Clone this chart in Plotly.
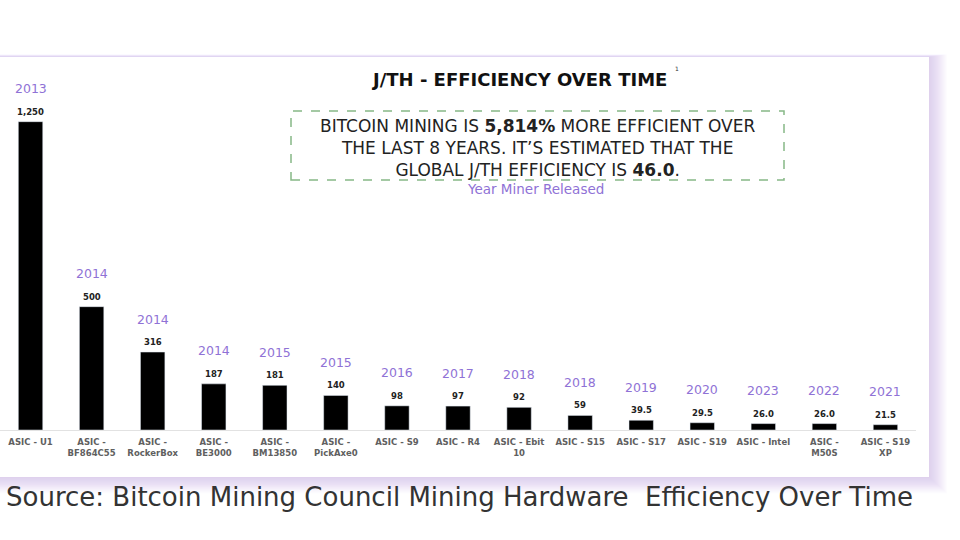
import plotly.graph_objects as go

categories = ["ASIC - U1", "ASIC -<br>BF864C55", "ASIC -<br>RockerBox", "ASIC -<br>BE3000",
              "ASIC -<br>BM13850", "ASIC -<br>PickAxe0", "ASIC - S9", "ASIC - R4",
              "ASIC - Ebit<br>10", "ASIC - S15", "ASIC - S17", "ASIC - S19",
              "ASIC - Intel", "ASIC -<br>M50S", "ASIC - S19<br>XP"]
efficiency = [1250, 500, 316, 187, 181, 140, 98, 97, 92, 59, 39.5, 29.5, 26.0, 26.0, 21.5]
value_labels = ["1,250", "500", "316", "187", "181", "140", "98", "97", "92", "59",
                "39.5", "29.5", "26.0", "26.0", "21.5"]
years = ["2013", "2014", "2014", "2014", "2015", "2015", "2016", "2017", "2018", "2018",
         "2019", "2020", "2023", "2022", "2021"]

W, H = 960, 540
ML, MR, MT, MB = 0, 44, 60, 110
PW = W - ML - MR
PH = H - MT - MB

def px(x):
    return (x - ML) / PW

def py(y):
    return (H - MB - y) / PH

PURPLE = "#8f72d6"
FONT = "'DejaVu Sans', sans-serif"

fig = go.Figure()
fig.add_trace(go.Bar(x=categories, y=efficiency, marker_color="black", width=0.4,
                     hoverinfo="x+y"))

annotations = []
for c, v, lab, yr in zip(categories, efficiency, value_labels, years):
    annotations.append(dict(x=c, y=v, xref="x", yref="y", text="<b>" + lab + "</b>",
                            showarrow=False, yshift=10, xanchor="center", yanchor="middle",
                            font=dict(size=8.5, color="#222", family=FONT)))
    annotations.append(dict(x=c, y=v, xref="x", yref="y", text=yr,
                            showarrow=False, yshift=33, xanchor="center", yanchor="middle",
                            font=dict(size=12.5, color=PURPLE, family=FONT)))

annotations += [
    dict(x=px(519), y=py(79), xref="paper", yref="paper", showarrow=False,
         xanchor="center", yanchor="middle",
         text="<b>J/TH - EFFICIENCY OVER TIME</b>",
         font=dict(size=18, color="#111", family=FONT)),
    dict(x=px(677), y=py(69), xref="paper", yref="paper", showarrow=False,
         xanchor="center", yanchor="middle",
         text="1", font=dict(size=6, color="#333", family=FONT)),
    dict(x=px(537), y=py(148), xref="paper", yref="paper", showarrow=False,
         xanchor="center", yanchor="middle",
         text="BITCOIN MINING IS <b>5,814%</b> MORE EFFICIENT OVER<br>"
              "THE LAST 8 YEARS. IT\u2019S ESTIMATED THAT THE<br>"
              "GLOBAL J/TH EFFICIENCY IS <b>46.0</b>.",
         align="center", font=dict(size=17, color="#222", family=FONT)),
    dict(x=px(535), y=py(189), xref="paper", yref="paper", showarrow=False,
         xanchor="center", yanchor="middle",
         text="Year Miner Released", font=dict(size=13.5, color=PURPLE, family=FONT)),
    dict(x=px(4), y=py(497), xref="paper", yref="paper", showarrow=False,
         xanchor="left", yanchor="middle",
         text="Source: Bitcoin Mining Council Mining Hardware&nbsp;&nbsp;Efficiency Over Time",
         font=dict(size=26, color="#333", family=FONT)),
]

shapes = []
# soft lavender shadow around the card
for k in range(18, 0, -1):
    shapes.append(dict(type="rect", xref="paper", yref="paper", layer="below",
                       x0=px(-30), x1=px(929 + k), y0=py(477 + k * 0.9), y1=py(57 - k * 0.15),
                       line=dict(width=0), fillcolor="rgba(190,172,238,0.035)"))
shapes.append(dict(type="rect", xref="paper", yref="paper", layer="below",
                   x0=px(-30), x1=px(929), y0=py(477), y1=py(57),
                   line=dict(width=0), fillcolor="white"))
shapes.append(dict(type="rect", xref="paper", yref="paper",
                   x0=px(291), x1=px(784), y0=py(180), y1=py(111),
                   line=dict(color="#86b886", width=1.5, dash="dash"), fillcolor="rgba(0,0,0,0)"))

fig.update_layout(
    width=W, height=H,
    margin=dict(l=ML, r=MR, t=MT, b=MB),
    paper_bgcolor="white", plot_bgcolor="rgba(0,0,0,0)",
    showlegend=False,
    bargap=0.6,
    xaxis=dict(showline=True, linecolor="#e2e2e2", linewidth=1, showgrid=False,
               tickfont=dict(size=8.5, color="#606060", family=FONT, weight="bold"), ticks="",
               ticklabelstandoff=4, tickangle=0, fixedrange=True),
    yaxis=dict(range=[0, 1500], visible=False, showgrid=False, fixedrange=True),
    annotations=annotations,
    shapes=shapes,
)

fig.write_html("out.html", config={"displayModeBar": False},
               post_script="document.body.style.margin='0';document.body.style.padding='0';")
